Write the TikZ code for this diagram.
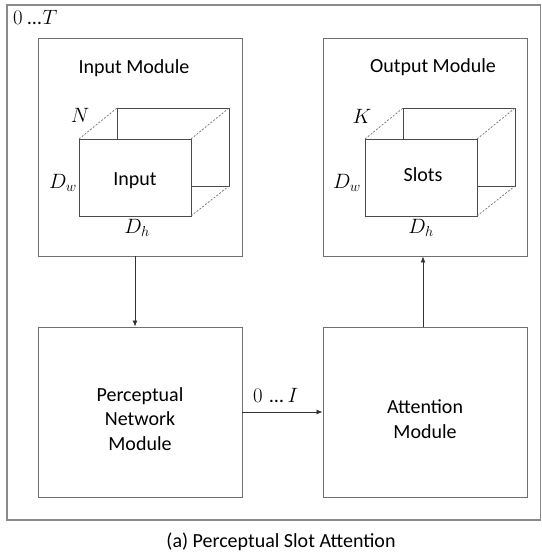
\documentclass[tikz,border=0pt]{standalone}
\usepackage{fontspec}
\setmainfont{Carlito}
\usetikzlibrary{arrows.meta,calc}
\definecolor{framegray}{HTML}{8A8A8A}
\definecolor{boxgray}{HTML}{707070}
\definecolor{cubegray}{HTML}{4A4A4A}
\begin{document}
\begin{tikzpicture}[x=1pt,y=-1pt,
  every node/.style={font=\fontsize{20}{24.5}\selectfont, inner sep=0pt, text=black},
  modbox/.style={draw=boxgray, line width=0.9pt, minimum width=204pt, anchor=center},
  cubeline/.style={draw=cubegray, line width=0.8pt},
  cubedash/.style={draw=boxgray, line width=0.7pt, dash pattern=on 2pt off 1.6pt},
  arr/.style={draw=black!80, line width=0.8pt, -{Latex[length=6pt,width=5pt]}},
  lbl/.style={anchor=base}]
\useasboundingbox (0,0) rectangle (541,556);
% outer frame
\draw[draw=framegray, line width=1.1pt] (7,5) rectangle (540.5,520);
\node[anchor=base west] (tlab) at (13,25) {$0$\hspace{5pt}…\hspace{1pt}$T$};

% module boxes
\node[modbox, minimum height=218pt] (inp) at (140,147) {};
\node[modbox, minimum height=218pt] (out) at (425,147) {};
\node[modbox, minimum height=170pt] (perc) at (140,412) {};
\node[modbox, minimum height=170pt] (att) at (425,412) {};

\node[lbl] (inpT) at (134,74) {Input Module};
\node[lbl] (outT) at (433,73) {Output Module};
\node[align=center] (percT) at (140,419) {Perceptual\\Network\\Module};
\node[align=center] (attT) at (425,419) {Attention\\Module};

% input cube
\coordinate (iA) at (79,139);   % front TL
\coordinate (iB) at (191,139);  % front TR
\coordinate (iC) at (191,216);  % front BR
\coordinate (iE) at (117,108);  % back TL
\coordinate (iF) at (229,108);  % back TR
\coordinate (iG) at (229,186);  % back BR
\coordinate (iH) at (117,139);  % back left meets front top
\coordinate (iJ) at (191,186);  % back bottom meets front right
\draw[cubeline] (iH) -- (iE) -- (iF) -- (iG) -- (iJ);
\draw[cubeline] (iA) rectangle (iC);
\draw[cubedash] (iA) -- (iE);
\draw[cubedash] (iB) -- (iF);
\draw[cubedash] (iC) -- (iG);
\node[lbl] (inL) at (135,185) {Input};
\node[lbl] (iN) at (80,123) {$N$};
\node[lbl] (iDw) at (63,188) {$D_w$};
\node[lbl] (iDh) at (137,233) {$D_h$};

% output cube
\coordinate (oA) at (365,139);
\coordinate (oB) at (477,139);
\coordinate (oC) at (477,216);
\coordinate (oE) at (403,108);
\coordinate (oF) at (515,108);
\coordinate (oG) at (515,186);
\coordinate (oH) at (403,139);
\coordinate (oJ) at (477,186);
\draw[cubeline] (oH) -- (oE) -- (oF) -- (oG) -- (oJ);
\draw[cubeline] (oA) rectangle (oC);
\draw[cubedash] (oA) -- (oE);
\draw[cubedash] (oB) -- (oF);
\draw[cubedash] (oC) -- (oG);
\node[lbl] (slL) at (423,182) {Slots};
\node[lbl] (oK) at (362,124) {$K$};
\node[lbl] (oDw) at (347,188) {$D_w$};
\node[lbl] (oDh) at (421,233) {$D_h$};

% connectors
\coordinate (a1) at (135,0);
\coordinate (a2) at (423,0);
\draw[arr] (inp.south -| a1) -- (perc.north -| a1);
\draw[arr] (att.north -| a2) -- (out.south -| a2);
\draw[arr] (perc.east) -- (att.west);
\node[anchor=base west] (ilab) at (253,402) {$0$\hspace{7pt}…\hspace{4pt}$I$};

% caption
\node[lbl] (cap) at (281,547) {(a) Perceptual Slot Attention};
\end{tikzpicture}
\end{document}
